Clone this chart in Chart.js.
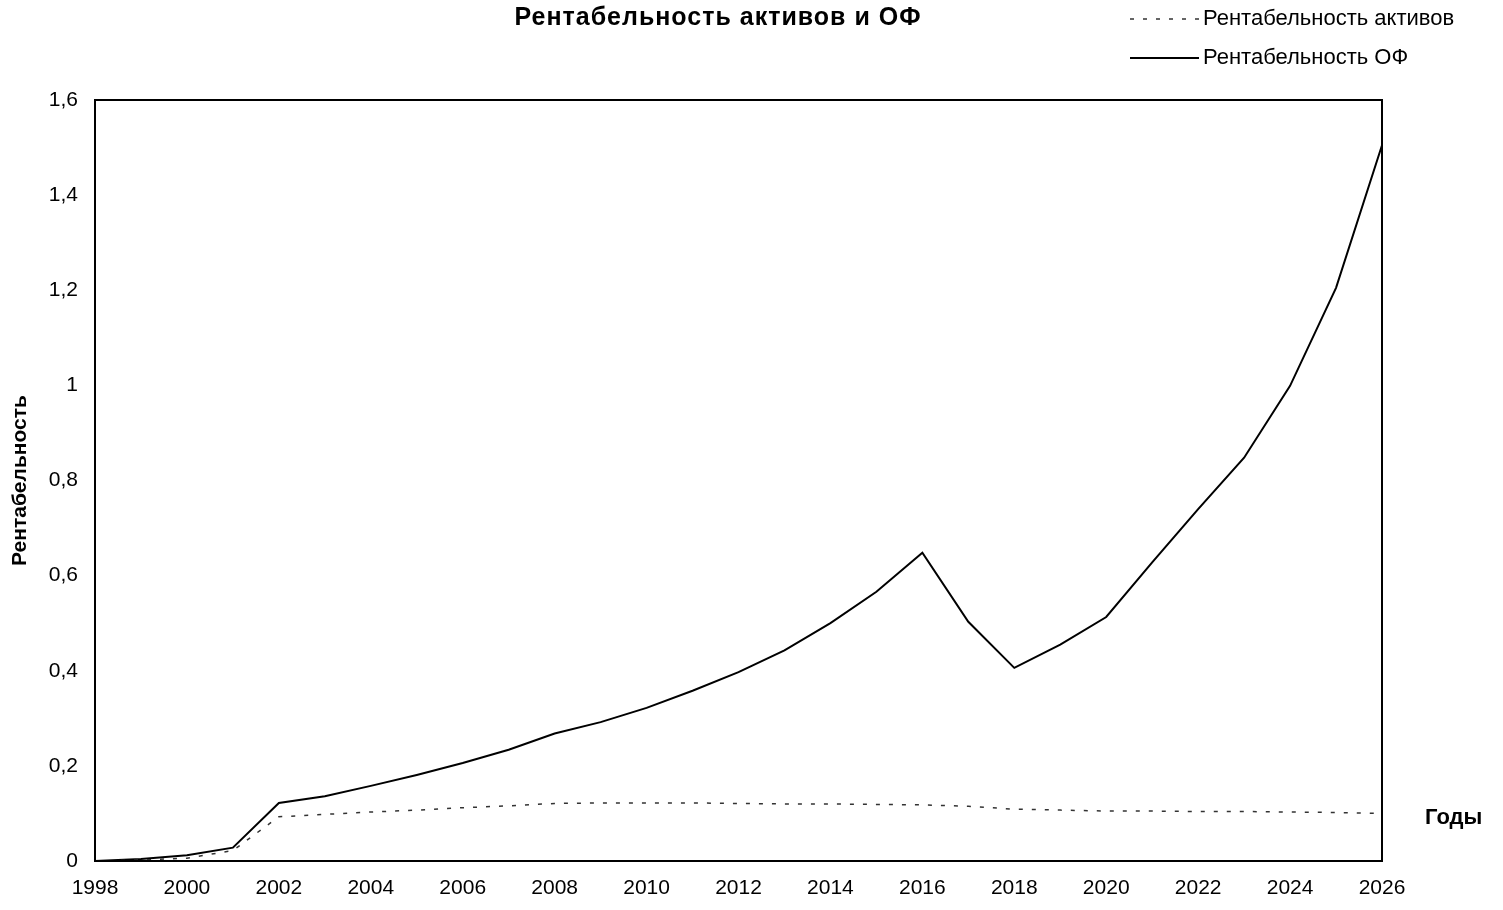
<!DOCTYPE html>
<html>
<head>
<meta charset="utf-8">
<script src="https://cdn.jsdelivr.net/npm/chart.js@4.4.1/dist/chart.umd.min.js"></script>
<style>
  html, body { margin: 0; padding: 0; background: #fff; }
  #wrap { width: 1503px; height: 910px; }
</style>
</head>
<body>
<div id="wrap"><canvas id="roaChart"></canvas></div>
<script>
const years = [
    "1998", "1999", "2000", "2001", "2002", "2003", "2004", "2005", "2006", "2007",
    "2008", "2009", "2010", "2011", "2012", "2013", "2014", "2015", "2016", "2017",
    "2018", "2019", "2020", "2021", "2022", "2023", "2024", "2025", "2026"
];

// Рентабельность активов (dashed)
const assetsReturn = [
    0, 0.002, 0.006, 0.022, 0.093, 0.098, 0.103, 0.107, 0.112, 0.116,
    0.121, 0.122, 0.122, 0.122, 0.121, 0.12, 0.12, 0.119, 0.118, 0.115,
    0.109, 0.107, 0.105, 0.105, 0.104, 0.104, 0.103, 0.102, 0.1
];

// Рентабельность ОФ (solid)
const fixedAssetsReturn = [
    0, 0.004, 0.012, 0.028, 0.122, 0.136, 0.158, 0.181, 0.206, 0.234,
    0.268, 0.292, 0.322, 0.358, 0.397, 0.443, 0.5, 0.566, 0.648, 0.503,
    0.406, 0.455, 0.513, 0.628, 0.74, 0.848, 0.999, 1.205, 1.505
];

const yTicks = [0, 0.2, 0.4, 0.6, 0.8, 1, 1.2, 1.4, 1.6];

const FONT = '"Liberation Sans", Arial, sans-serif';

// frame, title, legend and the "Годы" label
const decorations = {
    id: 'decorations',
    afterDraw(chart) {
        const ctx = chart.ctx;
        const a = chart.chartArea;
        ctx.save();
        ctx.strokeStyle = '#000';
        ctx.lineWidth = 2;
        ctx.strokeRect(a.left, a.top, a.right - a.left, a.bottom - a.top);

        ctx.fillStyle = '#000';
        ctx.font = 'bold 25px ' + FONT;
        ctx.letterSpacing = '1px';
        ctx.textAlign = 'center';
        ctx.textBaseline = 'middle';
        ctx.fillText('Рентабельность активов и ОФ', 718, 18);
        ctx.letterSpacing = '0px';

        ctx.font = 'bold 22px ' + FONT;
        ctx.textAlign = 'left';
        ctx.fillText('Годы', 1425, 818);

        // legend
        const ds = chart.data.datasets;
        const rows = [[ds[0], 19], [ds[1], 58]];
        ctx.font = '22px ' + FONT;
        rows.forEach(([d, y]) => {
            ctx.beginPath();
            ctx.strokeStyle = d.borderColor;
            ctx.lineWidth = d.borderWidth;
            ctx.setLineDash(d.borderDash || []);
            ctx.moveTo(1130, y);
            ctx.lineTo(1199, y);
            ctx.stroke();
            ctx.setLineDash([]);
            ctx.fillText(d.label, 1203, y);
        });
        ctx.restore();
    }
};

new Chart(document.getElementById('roaChart').getContext('2d'), {
    type: 'line',
    data: {
        labels: years,
        datasets: [{
            label: 'Рентабельность активов',
            data: assetsReturn,
            borderColor: '#333',
            borderWidth: 1.5,
            borderDash: [4, 9],
            pointRadius: 0,
            fill: false,
            tension: 0
        }, {
            label: 'Рентабельность ОФ',
            data: fixedAssetsReturn,
            borderColor: '#000',
            borderWidth: 2,
            pointRadius: 0,
            fill: false,
            tension: 0
        }]
    },
    options: {
        responsive: true,
        maintainAspectRatio: false,
        animation: false,
        layout: {
            padding: { top: 100, right: 121, left: 8, bottom: 8 }
        },
        plugins: {
            legend: { display: false },
            title: { display: false },
            tooltip: { enabled: false }
        },
        scales: {
            x: {
                offset: false,
                grid: { display: false },
                border: { display: false },
                afterFit: function(axis) { axis.height = 41; },
                ticks: {
                    autoSkip: false,
                    maxRotation: 0,
                    color: '#000',
                    font: { family: FONT, size: 21 },
                    padding: 7,
                    callback: function(v, i) {
                        return i % 2 === 0 ? years[i] : '';
                    }
                }
            },
            y: {
                min: 0,
                max: 1.6,
                afterBuildTicks: function(axis) {
                    axis.ticks = yTicks.map(v => ({ value: v }));
                },
                afterFit: function(axis) { axis.width = 87; },
                grid: { display: false },
                border: { display: false },
                ticks: {
                    color: '#000',
                    font: { family: FONT, size: 21 },
                    padding: 9,
                    callback: function(v) {
                        return String(Math.round(v * 10) / 10).replace('.', ',');
                    }
                },
                title: {
                    display: true,
                    text: 'Рентабельность',
                    color: '#000',
                    font: { family: FONT, size: 21, weight: 'bold' },
                    padding: { top: 0, bottom: 16 }
                }
            }
        }
    },
    plugins: [decorations]
});
</script>
</body>
</html>
